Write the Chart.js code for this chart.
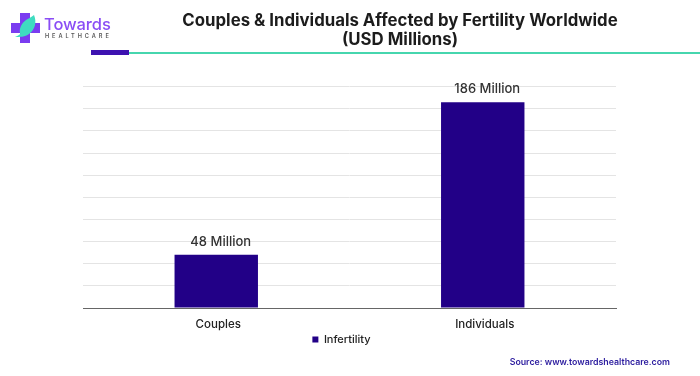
<!DOCTYPE html>
<html><head><meta charset="utf-8">
<script src="https://cdn.jsdelivr.net/npm/chart.js@4"></script>
<style>
html,body{margin:0;padding:0;background:#fff;width:700px;height:376px;overflow:hidden}
#wrap{position:relative;width:700px;height:376px}
canvas{position:absolute;left:0;top:0}
.o{position:absolute;font-family:Inter,sans-serif;white-space:nowrap}
#bar1{left:91px;top:50px;width:38px;height:5px;background:#3d12b0}
#bar2{left:129px;top:52px;width:571px;height:2px;background:#46d6ae}
#src{right:30px;top:355.5px;font-size:8.8px;font-weight:600;color:#2a1a9e}
#t1{left:44px;top:14px;font-size:16.5px;font-weight:500;color:#8a4df5;letter-spacing:-.1px}
#t2{left:45px;top:33px;font-size:5.6px;font-weight:600;color:#555;letter-spacing:2.95px}
#logo{position:absolute;left:10px;top:12px}
</style></head><body>
<div id="wrap">
<canvas id="c" width="700" height="376"></canvas>
<svg id="logo" width="32" height="32" viewBox="0 0 32 32">
<path d="M10 1h10v10h10v10H20v10H10V21H1V11h9z" fill="#7a3cf0"/>
<path d="M24 3c3 7 1 15-5 19-4 3-9 3-14 3 3-1 6-3 5-4-1-5 2-10 6-13 3-2 6-3 8-5z" fill="#3fdcc0"/>
</svg>
<div class="o" id="t1">Towards</div>
<div class="o" id="t2">HEALTHCARE</div>
<div class="o" id="bar1"></div><div class="o" id="bar2"></div>
<div class="o" id="src">Source: www.towardshealthcare.com</div>
</div>
<script>
const categories = ["Couples", "Individuals"];
const seriesName = "Infertility";
const seriesValues = [48, 186];
const valueLabels = ["48 Million", "186 Million"];
const titleLines = ["Couples & Individuals Affected by Fertility Worldwide", "(USD Millions)"];
const FONT = "Inter, sans-serif";

const barLabels = {
  id: "barLabels",
  afterLayout(chart) {
    chart.titleBlock.left = 100;
    chart.titleBlock.right = 700;
    chart.legend.left -= 8;
    chart.legend.right -= 8;
  },
  afterDatasetsDraw(chart) {
    const { ctx } = chart;
    chart.getDatasetMeta(0).data.forEach((el, i) => {
      ctx.save();
      ctx.font = "500 13px " + FONT;
      ctx.fillStyle = "#333";
      ctx.textAlign = "center";
      ctx.textBaseline = "alphabetic";
      ctx.fillText(valueLabels[i], el.x + 4.5, el.y - 9);
      ctx.restore();
    });
  }
};

new Chart(document.getElementById("c"), {
  type: "bar",
  data: {
    labels: categories,
    datasets: [{
      label: seriesName,
      data: seriesValues,
      backgroundColor: "#220087",
      borderWidth: 0,
      barPercentage: 0.313,
      categoryPercentage: 1
    }]
  },
  plugins: [barLabels],
  options: {
    responsive: false,
    animation: false,
    layout: { padding: { left: 83, right: 84, top: 12, bottom: 21 } },
    plugins: {
      tooltip: { enabled: false },
      title: {
        display: true,
        text: titleLines,
        color: "#1c1c1c",
        font: { family: FONT, size: 16.8, weight: "700", lineHeight: 1.12 },
        padding: { top: 0, bottom: 37 }
      },
      legend: {
        display: true,
        position: "bottom",
        labels: {
          boxWidth: 6, boxHeight: 6, padding: 3,
          color: "#222",
          font: { family: FONT, size: 11, weight: "500" }
        }
      }
    },
    scales: {
      x: {
        grid: { display: false },
        border: { color: "#666", width: 1 },
        afterFit(s) { s.height = 23; },
        ticks: { color: "#222", padding: 2, labelOffset: 2, maxRotation: 0, font: { family: FONT, size: 11.5, weight: "500" } }
      },
      y: {
        min: 0, max: 200,
        afterFit(s) { s.width = 0; },
        grid: { color: "#e4e4e4", lineWidth: 1, drawTicks: false },
        border: { display: false },
        ticks: { display: false, stepSize: 20 }
      }
    }
  }
});
</script>
</body></html>
